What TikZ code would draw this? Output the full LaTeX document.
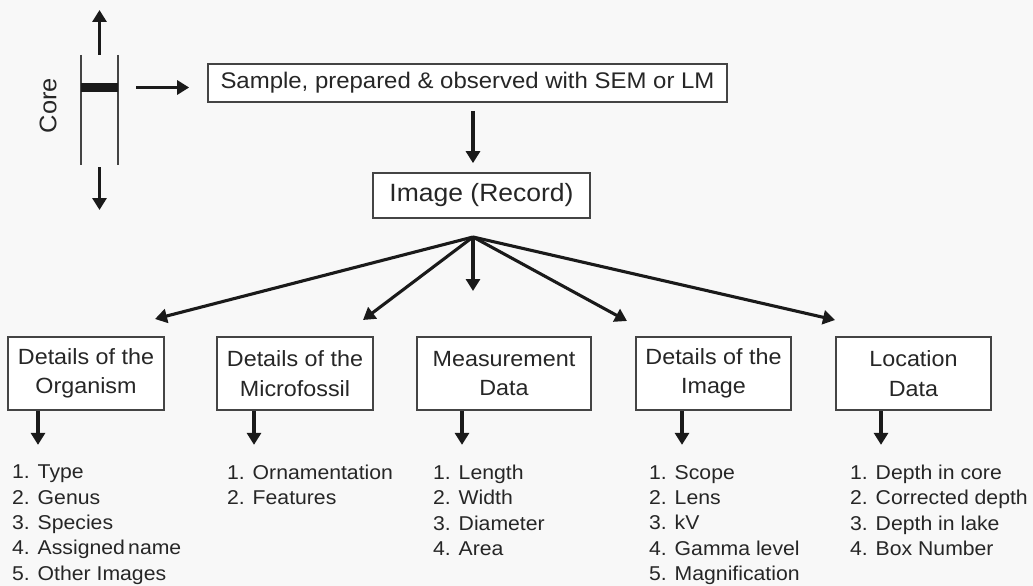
\documentclass[tikz,border=0pt]{standalone}
\usepackage{fontspec}
\setmainfont{Liberation Sans}[FakeStretch=1.06]
\usetikzlibrary{arrows.meta}
\definecolor{ink}{HTML}{1A1A1A}
\definecolor{txt}{HTML}{262626}
\definecolor{edge}{HTML}{444444}
\definecolor{bg}{HTML}{F8F8F8}
\begin{document}
\begin{tikzpicture}[x=1pt,y=-1pt,
  arr/.style={draw=ink, line width=3.1pt, -{Triangle[length=12pt,width=14pt]}},
  box/.style={draw=edge, line width=1.7pt, fill=white, text=txt, inner sep=0pt, align=center},
  cat/.style={box, minimum height=73pt, font=\fontsize{22}{29.3}\selectfont},
  list/.style={anchor=north west, inner sep=0pt, align=left, text=txt, font=\fontsize{20}{25.3}\selectfont}]
\fill[bg] (0,0) rectangle (1033,586);
\useasboundingbox (0,0) rectangle (1033,586);

% core
\node[inner sep=0pt, minimum width=37pt, minimum height=110pt] (core) at (99.5,110) {};
\draw[edge, line width=1.7pt] (core.north west) -- (core.south west) (core.north east) -- (core.south east);
\node[fill=ink, inner sep=0pt, minimum width=37pt, minimum height=9pt] (bar) at (99.5,87.5) {};
\node[rotate=90, text=txt, font=\fontsize{24}{24}\selectfont, inner sep=0pt] (corelbl) at (48,105.5) {Core};
\coordinate (uptip) at (99.5,10);
\coordinate (downtip) at (99.5,210);
\draw[arr] (core.north) -- (uptip);
\draw[arr, shorten <=2pt] (core.south) -- (downtip);

% top boxes
\node[box, minimum width=519pt, minimum height=38pt, font=\fontsize{22.6}{26}\selectfont] (sample) at (467.5,83) {Sample, prepared \& observed with SEM or LM};
\draw[arr, shorten <=18pt, shorten >=18pt] (bar.east) -- (sample.west |- bar.east);

\node[box, minimum width=217pt, minimum height=45pt, font=\fontsize{25}{28}\selectfont] (image) at (481.5,195.5) {Image (Record)};
\coordinate (fan) at (473,237);
\draw[arr, shorten <=8pt, shorten >=9pt] (sample.south -| fan) -- (image.north -| fan);

% categories
\node[cat, minimum width=156pt] (org) at (86,373.5) {Details of the\\Organism};
\node[cat, minimum width=156pt] (mic) at (295,373.5) {Details of the\\Microfossil};
\node[cat, minimum width=174pt] (mea) at (504,373.5) {Measurement\\Data};
\node[cat, minimum width=155pt] (det) at (713.5,373.5) {Details of the\\Image};
\node[cat, minimum width=155pt] (loc) at (913.5,373.5) {Location\\Data};

% fan arrows
\coordinate (t1) at (155,319);
\coordinate (t2) at (363,320);
\coordinate (t3) at (473,291);
\coordinate (t4) at (627,321);
\coordinate (t5) at (835,320);
\draw[arr] (fan) -- (t1);
\draw[arr] (fan) -- (t2);
\draw[arr] (fan) -- (t3);
\draw[arr] (fan) -- (t4);
\draw[arr] (fan) -- (t5);

% small arrows
\draw[arr] ([xshift=-48pt]org.south) -- ([xshift=-48pt,yshift=-34pt]org.south);
\draw[arr] ([xshift=-41pt]mic.south) -- ([xshift=-41pt,yshift=-34pt]mic.south);
\draw[arr] ([xshift=-42pt]mea.south) -- ([xshift=-42pt,yshift=-34pt]mea.south);
\draw[arr] ([xshift=-31.5pt]det.south) -- ([xshift=-31.5pt,yshift=-34pt]det.south);
\draw[arr] ([xshift=-32.5pt]loc.south) -- ([xshift=-32.5pt,yshift=-34pt]loc.south);

% lists
\node[list] (orgl) at (12,465) {1. Type\\2. Genus\\3. Species\\4. Assigned\,name\\5. Other Images};
\node[list] (micl) at (227,465) {1. Ornamentation\\2. Features};
\node[list] (meal) at (433,465) {1. Length\\2. Width\\3. Diameter\\4. Area};
\node[list] (detl) at (649,465) {1. Scope\\2. Lens\\3. kV\\4. Gamma level\\5. Magnification};
\node[list] (locl) at (850,465) {1. Depth in core\\2. Corrected depth\\3. Depth in lake\\4. Box Number};
\end{tikzpicture}
\end{document}
